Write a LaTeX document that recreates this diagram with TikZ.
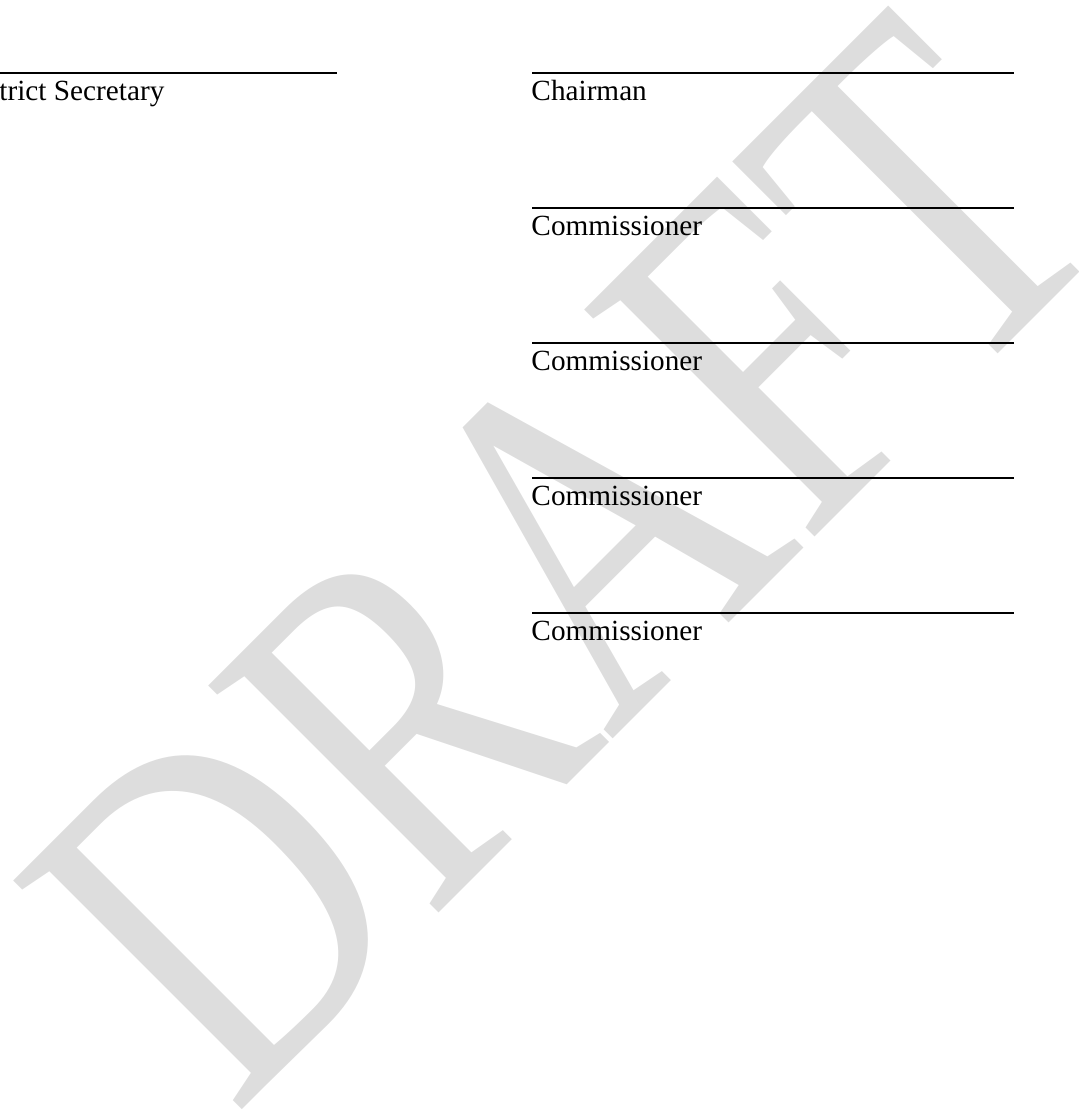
\documentclass[tikz,border=0pt]{standalone}
\usepackage{fontspec}
\setmainfont{Liberation Serif}
\definecolor{draftgray}{RGB}{221,221,221}
\tikzset{sigline/.style={line width=0.6pt},
  sigtext/.style={anchor=base west, inner sep=0pt, font=\fontsize{12}{14}\selectfont},
  watermark/.style={anchor=base west, inner sep=0pt, text=draftgray,
    font=\fontsize{202.6}{203}\selectfont, transform shape}}

\begin{document}
\begin{tikzpicture}[x=0.4102pt,y=0.4102pt]
      \useasboundingbox (0,0) rectangle (1078,1115);

      % watermark behind everything
      \begin{scope}[shift={(234,-3)}, rotate=45, xscale=0.775]
        \node [watermark] (draft) at (0,0) {DRAFT};
      \end{scope}

      \draw [sigline] (-2,1042) -- (337,1042);
      \node [sigtext] (secretary) at (-1,1014) {trict Secretary};

      \draw [sigline] (532,1042) -- (1014,1042);
      \node [sigtext] (chairman) at (531,1014) {Chairman};
      \draw [sigline] (532,907) -- (1014,907);
      \node [sigtext] (comm1) at (531,879) {Commissioner};
      \draw [sigline] (532,772) -- (1014,772);
      \node [sigtext] (comm2) at (531,744) {Commissioner};
      \draw [sigline] (532,637) -- (1014,637);
      \node [sigtext] (comm3) at (531,609) {Commissioner};

      \draw [sigline] (532,502) -- (1014,502);
      \node [sigtext] (comm4) at (531,474) {Commissioner};
    \end{tikzpicture}
\end{document}
